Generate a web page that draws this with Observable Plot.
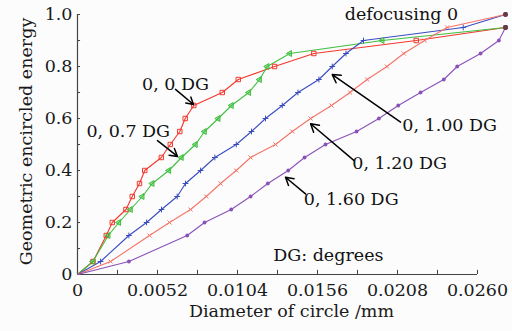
<!DOCTYPE html>
<html><head><meta charset="utf-8">
<script src="https://cdn.jsdelivr.net/npm/d3@7"></script>
<script src="https://cdn.jsdelivr.net/npm/@observablehq/plot@0.6"></script>
<style>body{margin:0;background:#fcfcfc}</style>
</head><body><div id="chart"></div>
<script>
// encircled energy levels (y)
const energyLevels = [0, 0.05, 0.15, 0.2, 0.25, 0.3, 0.35, 0.4, 0.45, 0.5, 0.55, 0.6, 0.65, 0.7, 0.75, 0.8, 0.85, 0.9, 0.95, 1.0];
// diameters (mm) per series
const dia0DG   = [0, 0.00101, 0.00187, 0.00226, 0.00315, 0.00356, 0.00403, 0.00437, 0.00545, 0.00603, 0.00665, 0.00700, 0.00756, 0.00941, 0.01045, 0.01281, 0.01536, 0.02202, 0.02782];
const dia07DG  = [0, 0.00100, 0.00200, 0.00269, 0.00345, 0.00421, 0.00486, 0.00594, 0.00676, 0.00767, 0.00826, 0.00915, 0.01001, 0.01114, 0.01184, 0.01233, 0.01380, 0.01981, 0.02782];
const dia100DG = [0, 0.00150, 0.00334, 0.00449, 0.00546, 0.00648, 0.00702, 0.00800, 0.00893, 0.01032, 0.01131, 0.01222, 0.01331, 0.01433, 0.01569, 0.01656, 0.01745, 0.01859, 0.02507, 0.02782];
const dia120DG = [0, 0.00215, 0.00468, 0.00598, 0.00735, 0.00837, 0.00930, 0.01032, 0.01125, 0.01287, 0.01396, 0.01515, 0.01651, 0.01771, 0.01883, 0.02011, 0.02121, 0.02256, 0.02403, 0.02782];
const dia160DG = [0, 0.00334, 0.00713, 0.00826, 0.00999, 0.01125, 0.01237, 0.01370, 0.01476, 0.01612, 0.01814, 0.01959, 0.02085, 0.02230, 0.02381, 0.02468, 0.02620, 0.02739, 0.02782];

const seriesNames = ["0, 0 DG", "0, 0.7 DG", "0, 1.00 DG", "0, 1.20 DG", "0, 1.60 DG"];
const seriesDia = [dia0DG, dia07DG, dia100DG, dia120DG, dia160DG];
const seriesColors = ["#f2382c", "#3fbf3f", "#3a4cc0", "#f57468", "#8a52b8"];

// axis ticks
const xTickVals = [0, 0.0026, 0.0052, 0.0078, 0.0104, 0.013, 0.0156, 0.0182, 0.0208, 0.0234, 0.026];
const xLabelVals = [0, 0.0052, 0.0104, 0.0156, 0.0208, 0.026];
const xLabels = ["0", "0.0052", "0.0104", "0.0156", "0.0208", "0.0260"];
const yTickVals = [0, 0.1, 0.2, 0.3, 0.4, 0.5, 0.6, 0.7, 0.8, 0.9, 1.0];
const yLabelVals = [0, 0.2, 0.4, 0.6, 0.8, 1.0];
const yLabels = ["0", "0.2", "0.4", "0.6", "0.8", "1.0"];

// annotations
const noteTexts = ["0, 0 DG", "0, 0.7 DG", "0, 1.00 DG", "0, 1.20 DG", "0, 1.60 DG", "DG: degrees", "defocusing 0"];
const noteX = [0.00420, 0.00058, 0.02111, 0.01786, 0.01471, 0.01272, 0.01737];
const noteY = [0.733, 0.550, 0.573, 0.426, 0.289, 0.073, 1.002];
const arrowFromX = [0.00637, 0.00520, 0.02100, 0.01796, 0.01482];
const arrowFromY = [0.712, 0.515, 0.586, 0.439, 0.310];
const arrowToX = [0.00754, 0.00650, 0.01656, 0.01515, 0.01352];
const arrowToY = [0.654, 0.454, 0.769, 0.580, 0.374];

const rows = seriesNames.flatMap((s, k) => seriesDia[k].map((d, i) => ({series: s, k, x: d, y: energyLevels[i]})));
const notes = noteTexts.map((t, i) => ({t, x: noteX[i], y: noteY[i]}));
const arrows = arrowFromX.map((v, i) => ({x1: v, y1: arrowFromY[i], x2: arrowToX[i], y2: arrowToY[i]}));
const ends = rows.filter(r => r.x === seriesDia[r.k][seriesDia[r.k].length - 1]);
const xLab = new Map(xLabelVals.map((v, i) => [v, xLabels[i]]));
const yLab = new Map(yLabelVals.map((v, i) => [v, yLabels[i]]));

const byK = k => rows.filter(r => r.k === k && r.x > 0 && !ends.includes(r));
const FS = 17.5;

const chart = Plot.plot({
  width: 512, height: 331,
  marginLeft: 77, marginRight: 7, marginTop: 14, marginBottom: 57,
  style: {fontFamily: "DejaVu Serif", fontSize: FS + "px", background: "#fcfcfc", color: "#1a1a1a"},
  x: {domain: [0, 0.02782]},
  y: {domain: [0, 1]},
  marks: [
    Plot.ruleX([0], {y1: 0, y2: 1, stroke: "#444", strokeWidth: 1.2}),
    Plot.ruleY([0], {x1: 0, x2: 0.026, stroke: "#444", strokeWidth: 1.2}),
    Plot.ruleX(xTickVals, {y1: 0, y2: 0.016, stroke: "#444"}),
    Plot.ruleY(yTickVals, {x1: 0, x2: 0.0002, stroke: "#444"}),
    Plot.axisX({ticks: xLabelVals, tickFormat: d => xLab.get(d), tickSize: 0, tickPadding: 9, fontSize: FS, label: null}),
    Plot.axisY({ticks: yLabelVals, tickFormat: d => yLab.get(d), tickSize: 0, tickPadding: 5, fontSize: FS, label: null}),
    Plot.text(["Diameter of circle /mm"], {frameAnchor: "bottom", dy: 42, fontSize: FS}),
    Plot.text(["Geometric encircled energy"], {frameAnchor: "left", textAnchor: "middle", dx: -51, dy: -3, rotate: -90, fontSize: FS}),
    Plot.line(rows, {x: "x", y: "y", z: "series", stroke: d => seriesColors[d.k], strokeWidth: 1.1}),
    Plot.dot(byK(0), {x: "x", y: "y", symbol: "square", r: 2.5, stroke: seriesColors[0], fill: "none", strokeWidth: 1}),
    Plot.dot(byK(1), {x: "x", y: "y", symbol: "triangle", rotate: -90, r: 2.2, stroke: seriesColors[1], fill: seriesColors[1], fillOpacity: 0.5, strokeWidth: 1}),
    Plot.dot(byK(2), {x: "x", y: "y", symbol: "plus", r: 2, stroke: seriesColors[2], strokeWidth: 1}),
    Plot.dot(byK(3), {x: "x", y: "y", symbol: "times", r: 2, stroke: seriesColors[3], strokeWidth: 1}),
    Plot.dot(byK(4), {x: "x", y: "y", r: 1.9, fill: seriesColors[4], stroke: "none"}),
    Plot.dot(ends, {x: "x", y: "y", r: 2.4, fill: "#6a3a4a", stroke: "none"}),
    Plot.arrow(arrows, {x1: "x1", y1: "y1", x2: "x2", y2: "y2", stroke: "black", strokeWidth: 1.5, headLength: 9}),
    Plot.text(notes, {x: "x", y: "y", text: "t", textAnchor: "start", fontSize: FS, fill: "#111"})
  ]
});
document.getElementById("chart").appendChild(chart);
</script>
</body></html>
